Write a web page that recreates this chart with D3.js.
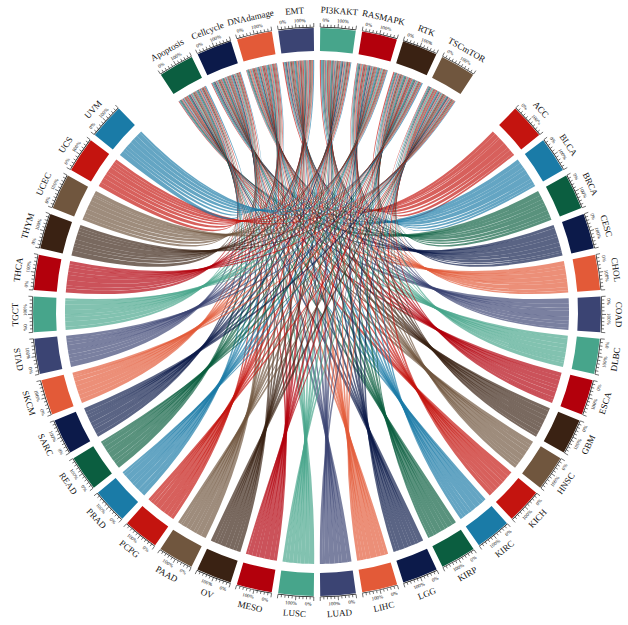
<!DOCTYPE html>
<html>
<head>
<meta charset="utf-8">
<script src="https://cdn.jsdelivr.net/npm/d3@7"></script>
<style>
body { margin: 0; background: #fff; }
text { font-family: "Liberation Serif", serif; fill: #111; }
</style>
</head>
<body>
<svg width="628" height="625"></svg>
<script>
var cancers = ["ACC","BLCA","BRCA","CESC","CHOL","COAD","DLBC","ESCA","GBM","HNSC","KICH","KIRC","KIRP","LGG","LIHC","LUAD",
  "LUSC","MESO","OV","PAAD","PCPG","PRAD","READ","SARC","SKCM","STAD","TGCT","THCA","THYM","UCEC","UCS","UVM"];
var pathways = ["Apoptosis","Cellcycle","DNAdamage","EMT","PI3KAKT","RASMAPK","RTK","TSCmTOR"];
var palette = ["#C4140F","#1A7BA7","#0B5E40","#0C1A4A","#E35A38","#3B4473","#47A58B","#B3000C","#3A2213","#70563E"];

// share of each cancer's genes per pathway (estimated)
var links = [
  [3,4,2,6,5,3,4,2],[4,5,3,4,6,3,3,2],[5,4,4,3,5,4,3,3],[3,6,3,5,4,4,2,3],
  [4,3,5,4,3,5,3,2],[5,4,3,6,4,3,4,2],[3,5,4,4,5,3,2,4],[4,4,5,3,4,5,3,3],
  [3,5,4,5,3,4,4,2],[4,3,4,5,5,3,3,3],[5,4,3,4,4,4,2,4],[3,4,5,5,3,4,3,3],
  [4,5,3,4,5,3,4,2],[5,3,4,3,4,5,3,3],[3,4,4,6,4,3,3,3],[4,5,3,4,5,4,2,3],
  [5,4,4,3,4,4,3,3],[3,4,5,5,3,4,4,2],[4,3,4,4,5,3,3,4],[5,5,3,4,4,4,2,3],
  [3,4,4,5,5,3,3,3],[4,4,5,3,4,5,3,2],[5,3,4,5,3,4,4,2],[3,5,3,4,5,3,3,4],
  [4,4,4,5,4,4,2,3],[5,4,3,4,5,3,3,3],[3,5,4,3,4,5,4,2],[4,3,5,5,3,4,3,3],
  [5,4,3,4,5,3,3,3],[3,4,4,5,4,4,2,4],[4,5,4,3,5,3,3,3],[5,3,3,5,4,4,4,2]
];

var svg = d3.select("svg");
var g = svg.append("g").attr("transform", "translate(317,312)");
var rad = Math.PI / 180;
var rOut = 284, rIn = 261, rRib = 252, gap = 1.3;

// sector angles (degrees, clockwise from top)
var sectors = [];
var pStep = 68 / pathways.length;
pathways.forEach(function(p, i){
  sectors.push({name: p, kind: "p", idx: i, color: palette[(i + 2) % 10],
    a0: -34 + i * pStep + gap / 2, a1: -34 + (i + 1) * pStep - gap / 2});
});
var cStep = (316.4 - 43.6) / cancers.length;
cancers.forEach(function(c, i){
  sectors.push({name: c, kind: "c", idx: i, color: palette[i % 10],
    a0: 43.6 + i * cStep + gap / 2, a1: 43.6 + (i + 1) * cStep - gap / 2});
});
var pSec = sectors.filter(function(s){ return s.kind == "p"; });
var cSec = sectors.filter(function(s){ return s.kind == "c"; });

var rowSum = links.map(function(r){ return d3.sum(r); });
var colSum = pathways.map(function(p, j){ return d3.sum(links, function(r){ return r[j]; }); });

// build ribbons
var ribbons = [];
var pPos = pSec.map(function(s){ return s.a0; });
links.forEach(function(row, i){
  var cs = cSec[i], pos = cs.a0, span = cs.a1 - cs.a0;
  row.forEach(function(v, j){
    var w = v / rowSum[i] * span;
    var ps = pSec[j], pw = v / colSum[j] * (ps.a1 - ps.a0);
    ribbons.push({color: cs.color,
      source: {startAngle: pos * rad, endAngle: (pos + w) * rad, radius: rRib},
      target: {startAngle: pPos[j] * rad, endAngle: (pPos[j] + pw) * rad, radius: rRib}});
    pos += w;
    pPos[j] += pw;
  });
});

var ribbon = d3.ribbon();
g.append("g").selectAll("path").data(ribbons).enter().append("path")
  .attr("d", ribbon)
  .attr("fill", function(d){ return d.color; })
  .attr("fill-opacity", 0.68);

var arc = d3.arc().innerRadius(rIn).outerRadius(rOut);
g.append("g").selectAll("path").data(sectors).enter().append("path")
  .attr("d", function(d){ return arc({startAngle: d.a0 * rad, endAngle: d.a1 * rad}); })
  .attr("fill", function(d){ return d.color; });

function pt(a, r){ return [Math.sin(a * rad) * r, -Math.cos(a * rad) * r]; }
function rot(a){ var n = ((a % 360) + 360) % 360; return (n > 92 && n < 268) ? n + 180 : n; }

var axis = g.append("g");
sectors.forEach(function(s){
  var line = d3.arc().innerRadius(rOut + 0.5).outerRadius(rOut + 1.2);
  axis.append("path").attr("d", line({startAngle: s.a0 * rad, endAngle: s.a1 * rad})).attr("fill", "#111");
  d3.range(0, 1.0001, 0.1).forEach(function(f, k){
    var a = s.a0 + f * (s.a1 - s.a0);
    var l = (k % 5 == 0) ? 4 : 2.5;
    var p1 = pt(a, rOut + 1), p2 = pt(a, rOut + 1 + l);
    axis.append("line").attr("x1", p1[0]).attr("y1", p1[1]).attr("x2", p2[0]).attr("y2", p2[1])
      .attr("stroke", "#111").attr("stroke-width", 0.6);
  });
  [["0%", 0.15], ["100%", 0.62]].forEach(function(t){
    var a = s.a0 + t[1] * (s.a1 - s.a0), p = pt(a, rOut + 8);
    axis.append("text").attr("transform", "translate(" + p + ") rotate(" + rot(a) + ")")
      .attr("text-anchor", "middle").attr("dy", "0.35em").style("font-size", "5px").text(t[0]);
  });
  var am = (s.a0 + s.a1) / 2, pl = pt(am, rOut + 18);
  axis.append("text").attr("transform", "translate(" + pl + ") rotate(" + rot(am) + ")")
    .attr("text-anchor", "middle").attr("dy", "0.35em").style("font-size", "9px").text(s.name);
});
</script>
</body>
</html>
